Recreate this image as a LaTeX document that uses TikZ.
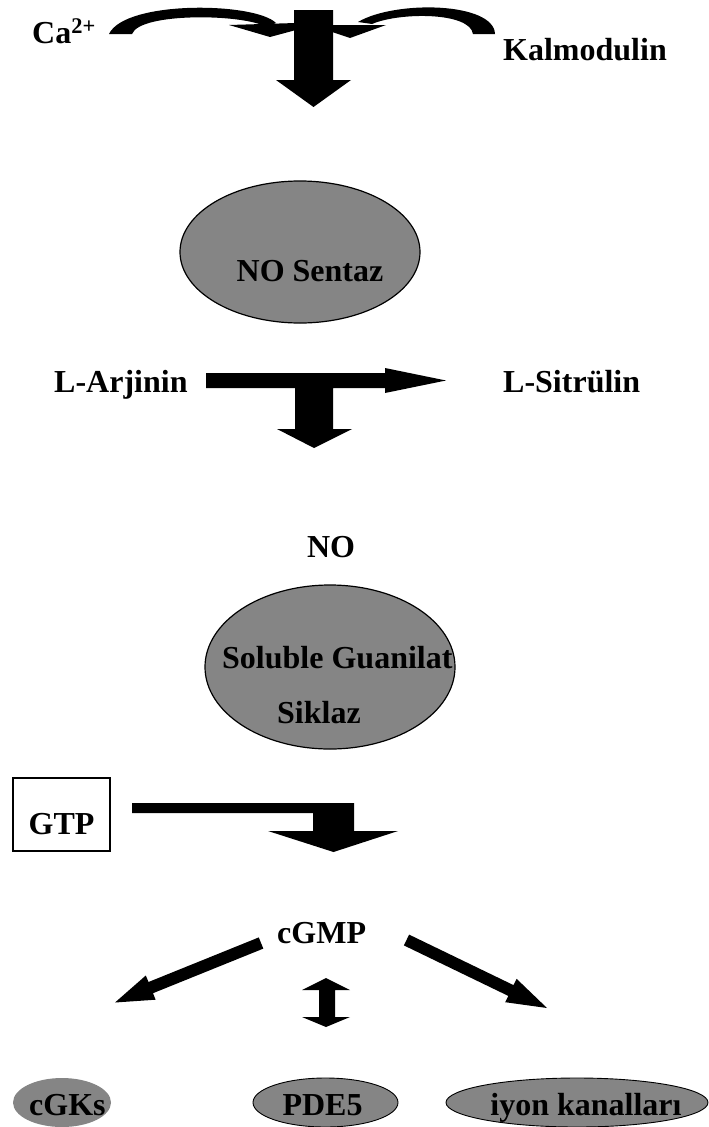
\documentclass[tikz,border=0pt]{standalone}
\usepackage{fontspec}
\setmainfont{Liberation Serif}
\usetikzlibrary{shapes.geometric}

\definecolor{enzgray}{gray}{0.52}

\tikzset{
  lbl/.style={font=\fontsize{32}{38}\selectfont\bfseries, inner sep=0pt},
  enzyme/.style={ellipse, fill=enzgray, draw=black, line width=1.2pt, inner sep=0pt},
  blk/.style={fill=black},
}

\begin{document}
\begin{tikzpicture}[x=1pt,y=-1pt]
	\useasboundingbox (0,0) rectangle (709,1127);

	%% Enzymes (ellipses)
	\node[enzyme, minimum width=240pt, minimum height=142pt] (nos) at (300,252) {};
	\node[enzyme, minimum width=250pt, minimum height=164pt] (sgc) at (330,667) {};
	\node[enzyme, draw=none, minimum width=98pt, minimum height=49pt] (cgkell) at (62,1102.5) {};
	\node[enzyme, line width=0.9pt, minimum width=145pt, minimum height=49pt] (pdeell) at (325.5,1102.5) {};
	\node[enzyme, line width=0.9pt, minimum width=262pt, minimum height=49pt] (ionell) at (577,1102.5) {};

	%% Labels
	\node[lbl, anchor=base west] (ca) at (32,43) {Ca\textsuperscript{2+}};
	\node[lbl, anchor=base west] (kal) at (503,60) {Kalmodulin};
	\node[lbl, anchor=base] (nostxt) at (310,281) {NO Sentaz};
	\node[lbl, anchor=base west] (arg) at (54,392) {L-Arjinin};
	\node[lbl, anchor=base west] (cit) at (503,392) {L-Sitrülin};
	\node[lbl, anchor=base] (no) at (331,557) {NO};
	\node[lbl, anchor=base west] (sgc1) at (222,668) {Soluble Guanilat};
	\node[lbl, anchor=base west] (sgc2) at (277,723) {Siklaz};
	\node[lbl, draw, line width=1.2pt, text height=39pt, text depth=0pt,
	      minimum width=97pt, minimum height=73pt] (gtp) at (61.5,814.5) {GTP};
	\node[lbl, anchor=base west] (cgmp) at (277,943) {cGMP};
	\node[lbl, anchor=base west] (cgk) at (29,1115) {cGKs};
	\node[lbl, anchor=base] (pde) at (322.5,1115) {PDE5};
	\node[lbl, anchor=base] (ion) at (586,1115) {iyon kanalları};

	%% Ca2+ and Kalmodulin joining the first arrow
	\fill[blk] (109,34) .. controls (125,0) and (255,2) .. (276,23)
	  -- (266,27) .. controls (245,14) and (140,12) .. (132,34) -- cycle;
	\fill[blk] (229,25) -- (296,23) -- (296,30) -- (270,37) -- cycle;
	\fill[blk] (495,34) .. controls (494,2) and (395,0) .. (358,22)
	  -- (372,24) .. controls (400,12) and (470,12) .. (473,34) -- cycle;
	\fill[blk] (332,25) -- (386,25) -- (350,38) -- (332,32) -- cycle;

	%% Down to NO Sentaz
	\fill[blk] (294,10) -- (333,10) -- (333,80) -- (351,80) -- (313.5,107)
	  -- (276,80) -- (294,80) -- cycle;

	%% L-Arjinin -> L-Sitrulin, and down to NO
	\fill[blk] (206,373) -- (385,373) -- (385,368) -- (446,380.5) -- (385,393)
	  -- (385,388) -- (333,388) -- (333,429) -- (352,429) -- (314,448)
	  -- (277,429) -- (295,429) -- (295,388) -- (206,388) -- cycle;

	%% GTP -> cGMP
	\fill[blk] (132,803) -- (354,803) -- (354,831) -- (398,831) -- (333.5,852)
	  -- (268,831) -- (313,831) -- (313,813) -- (132,813) -- cycle;

	%% cGMP to its targets
	\fill[blk] (258.8,937.4) -- (148.5,982.0) -- (145.8,975.5) -- (115,1002.5)
	  -- (155.6,999.7) -- (153.0,993.2) -- (263.3,948.6) -- cycle;
	\fill[blk] (409.1,934.6) -- (513.5,985.1) -- (516.6,978.8) -- (547,1008)
	  -- (505.2,1002.2) -- (508.3,995.9) -- (403.9,945.4) -- cycle;
	\fill[blk] (326,978) -- (350,990) -- (335,990) -- (335,1017) -- (350,1017)
	  -- (326,1027) -- (302,1017) -- (319,1017) -- (319,990) -- (302,990) -- cycle;
\end{tikzpicture}
\end{document}
